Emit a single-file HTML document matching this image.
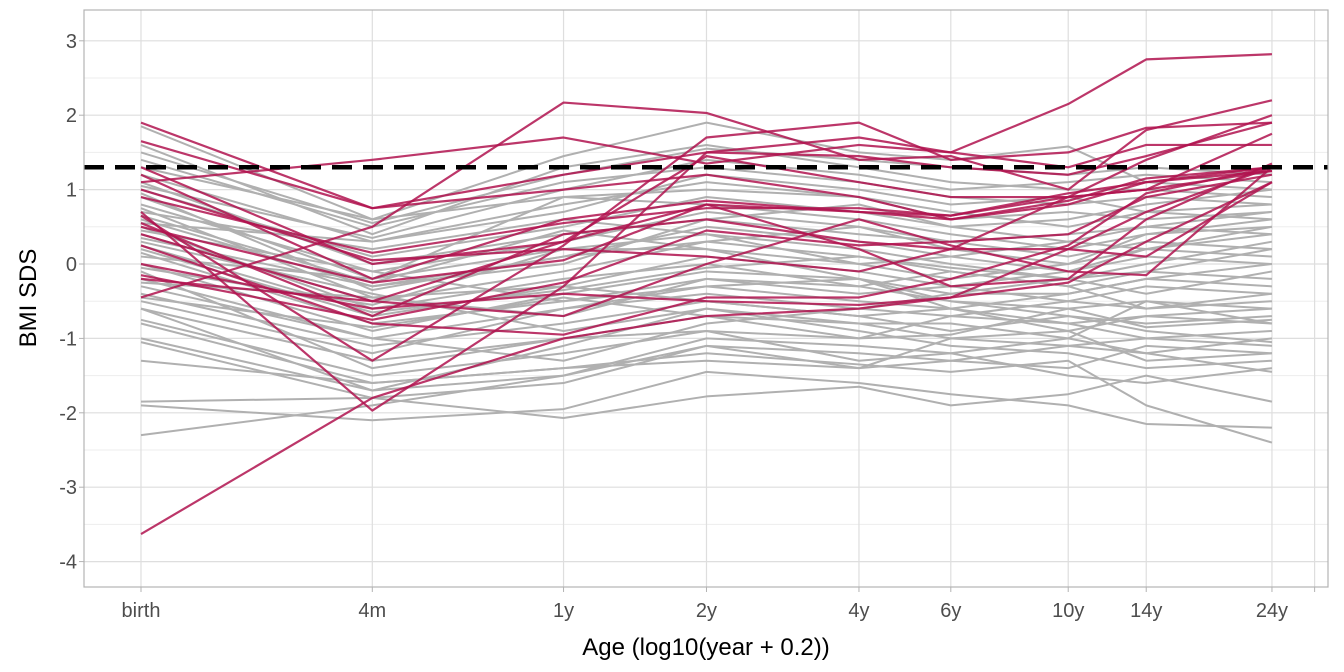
<!DOCTYPE html>
<html><head><meta charset="utf-8"><style>
html,body{margin:0;padding:0;background:#fff;}
svg{display:block;font-family:"Liberation Sans",sans-serif;}
</style></head><body>
<svg id="chart" width="1344" height="672" viewBox="0 0 1344 672">
<g id="grid"></g>
<g id="grey"></g>
<g id="red"></g>
<g id="ref"></g>
<rect x="84" y="10" width="1244" height="577" fill="none" stroke="#b3b3b3" stroke-width="1.2"/>
<g id="axes"></g>
<text x="706" y="655" text-anchor="middle" font-size="24" fill="#000">Age (log10(year + 0.2))</text>
<text transform="translate(36,298) rotate(-90)" text-anchor="middle" font-size="24" fill="#000">BMI SDS</text>
</svg>
<script>
const ageLabels = ["birth","4m","1y","2y","4y","6y","10y","14y","24y"];
const ageYears = [0, 1/3, 1, 2, 4, 6, 10, 14, 24];
const yTicks = [3,2,1,0,-1,-2,-3,-4];
const refValue = 1.3;
const redSeries = [
[-3.63,-1.8,-1.0,-0.7,-0.6,-0.45,0.2,0.7,1.3],
[1.9,0.75,1.2,1.5,1.45,1.3,1.2,1.45,1.9],
[1.1,1.4,1.7,1.35,1.6,1.5,2.15,2.75,2.82],
[0.65,-1.3,0.25,1.7,1.9,1.4,1.5,1.83,1.9],
[-0.45,0.5,2.17,2.03,1.4,1.45,1.0,1.8,2.2],
[0.7,-1.97,-0.3,1.5,1.7,1.5,1.3,1.6,1.6],
[1.65,0.75,1.0,1.2,0.9,0.6,0.8,1.1,1.3],
[1.2,-0.2,0.6,0.85,0.7,0.65,0.9,1.0,1.25],
[0.4,-0.5,0.3,0.8,0.7,0.6,0.85,1.15,1.3],
[-0.15,-0.75,-0.25,0.45,0.25,0.3,0.4,0.9,1.2],
[0.25,-0.8,-0.95,-0.45,-0.45,-0.2,0.25,0.95,1.3],
[1.0,0.05,0.2,0.1,-0.1,0.2,0.2,0.1,1.1],
[-0.2,-0.5,-0.7,0.0,0.6,0.25,-0.1,-0.15,1.3],
[0.5,-0.25,0.05,0.8,0.2,-0.3,-0.2,0.6,1.35],
[0.9,0.15,0.55,0.75,0.75,0.65,0.95,1.1,1.25],
[1.3,0.0,0.3,1.45,1.1,0.9,0.9,1.0,1.75],
[0.0,-0.6,-0.4,-0.5,-0.55,-0.45,-0.25,0.3,1.1],
[0.55,-0.7,0.4,0.6,0.3,0.2,0.9,1.4,2.0]
];
const greySeries = [
[-2.3,-1.9,-1.5,-1.1,-1.2,-1.3,-1.1,-1.0,-1.1],
[-1.85,-1.8,-2.07,-1.78,-1.65,-1.9,-1.75,-1.5,-1.85],
[-1.9,-2.1,-1.95,-1.45,-1.6,-1.75,-1.9,-2.15,-2.2],
[-1.3,-1.6,-1.4,-1.2,-1.35,-1.45,-1.3,-1.9,-2.4],
[-1.0,-1.7,-1.5,-1.0,-1.1,-1.2,-1.5,-1.6,-1.4],
[-0.75,-1.5,-1.2,-0.9,-1.3,-1.2,-1.0,-1.2,-1.45],
[-0.6,-1.3,-1.0,-0.7,-0.8,-1.0,-0.9,-1.3,-1.2],
[-0.4,-1.1,-0.8,-0.5,-0.7,-0.9,-0.7,-0.9,-1.05],
[-0.2,-1.0,-0.6,-0.3,-0.5,-0.6,-0.8,-0.7,-0.8],
[0.0,-0.9,-0.4,-0.1,-0.2,-0.5,-0.6,-0.5,-0.6],
[0.2,-0.7,-0.3,0.1,-0.1,-0.3,-0.5,-0.3,-0.4],
[0.4,-0.5,-0.1,0.3,0.1,-0.1,-0.3,-0.1,-0.2],
[0.6,-0.3,0.1,0.5,0.3,0.1,-0.1,0.1,0.0],
[0.8,-0.1,0.3,0.7,0.5,0.3,0.1,0.3,0.2],
[1.0,0.1,0.5,0.9,0.7,0.5,0.3,0.5,0.4],
[1.2,0.3,0.8,1.1,0.9,0.7,0.5,0.7,0.6],
[1.4,0.5,1.1,1.3,1.1,0.9,0.8,0.9,0.8],
[1.85,0.6,1.45,1.9,1.5,1.4,1.58,1.1,1.0],
[1.6,0.4,1.3,1.6,1.3,1.1,1.0,1.0,0.9],
[0.1,-0.2,0.9,1.0,0.9,0.6,0.7,0.6,0.7],
[-0.5,-1.2,-0.6,-0.4,-0.6,-0.7,-0.8,-1.0,-0.9],
[0.3,-0.4,-0.9,-0.6,-0.9,-1.1,-1.2,-1.4,-1.3],
[-0.1,-1.4,-1.0,-0.9,-1.0,-0.7,-0.5,-0.6,-0.5],
[0.7,0.2,0.6,0.4,0.2,0.0,-0.2,0.0,0.3],
[0.9,-0.2,0.2,0.2,-0.2,-0.4,-0.4,-0.2,-0.3],
[0.5,-0.6,-0.2,0.0,-0.3,-0.5,-0.7,-0.8,-0.7],
[0.15,-0.8,-0.5,-0.2,-0.4,-0.3,-0.1,0.2,0.5],
[1.1,0.0,0.4,0.6,0.4,0.3,0.4,0.5,0.7],
[-0.3,-1.0,-1.3,-0.8,-0.6,-0.4,-0.2,-0.4,-0.1],
[-0.8,-1.6,-1.4,-1.3,-1.4,-1.0,-1.1,-1.2,-1.0],
[1.3,0.6,0.9,0.8,0.6,0.4,0.2,0.4,0.5],
[0.35,-0.3,0.0,0.6,0.8,0.5,0.6,0.8,1.0],
[-0.05,-0.55,0.2,0.4,0.0,-0.2,0.0,0.2,0.1],
[0.75,-0.45,-0.3,-0.5,-0.7,-0.6,-0.9,-0.7,-0.6],
[0.55,0.3,0.7,1.2,1.0,0.8,0.9,0.7,0.8],
[-0.6,-1.7,-1.1,-0.6,-0.8,-0.8,-1.0,-0.5,-0.8],
[1.05,0.35,1.0,1.4,1.2,1.0,1.1,1.2,1.1],
[-0.25,-0.45,-0.7,-0.2,-0.3,-0.1,-0.3,-0.6,-0.4],
[0.45,-0.1,-0.5,-0.3,-0.2,-0.6,-0.4,-0.2,0.0],
[-1.05,-1.8,-1.6,-1.1,-1.4,-1.3,-1.4,-1.1,-1.2],
[0.95,-0.35,0.1,0.3,0.5,0.2,0.0,0.4,0.6],
[0.25,-0.65,-0.35,-0.05,0.1,-0.05,-0.2,-0.1,0.2],
[1.5,0.55,1.2,1.55,1.4,1.3,1.2,1.3,1.2],
[-0.45,-0.85,-0.45,-0.7,-1.0,-0.95,-0.6,-0.85,-0.75],
[0.65,-0.25,0.45,0.2,0.0,0.1,0.3,0.2,0.4]
];
const NS="http://www.w3.org/2000/svg";
const X0=141, XK=543, Y0=264, YK=74.4;
const lx=a=>Math.log10(a+0.2);
const xs=a=>X0+(lx(a)-lx(0))*XK;
const ys=v=>Y0-v*YK;
function mk(tag,attrs,parent){const e=document.createElementNS(NS,tag);for(const k in attrs)e.setAttribute(k,attrs[k]);parent.appendChild(e);return e;}
const grid=document.getElementById('grid'),axes=document.getElementById('axes');
for(let i=0;i<yTicks.length-1;i++){const v=(yTicks[i]+yTicks[i+1])/2;const l=mk('line',{x1:84,x2:1328,y1:ys(v),y2:ys(v),stroke:'#ededed','stroke-width':1},grid);

}
yTicks.forEach(v=>{const l=mk('line',{x1:84,x2:1328,y1:ys(v),y2:ys(v),stroke:'#dedede','stroke-width':1.2},grid);


const t=mk('text',{x:77,y:ys(v)+7,'text-anchor':'end','font-size':20,fill:'#4d4d4d'},axes);t.textContent=v;


const tk=mk('line',{x1:79,x2:84,y1:ys(v),y2:ys(v),stroke:'#b3b3b3'},axes);

});
const extra=[...ageYears,28.8];
extra.forEach((a,i)=>{const x=xs(a);const l=mk('line',{x1:x,x2:x,y1:10,y2:587,stroke:'#dedede','stroke-width':1.2},grid);


const tk=mk('line',{x1:x,x2:x,y1:587,y2:592,stroke:'#b3b3b3'},axes);


if(i<ageLabels.length){const t=mk('text',{x:x,y:617,'text-anchor':'middle','font-size':20,fill:'#4d4d4d'},axes);t.textContent=ageLabels[i];

}});
function draw(series,g,color,w,op,name){series.forEach(s=>{const p=mk('polyline',{points:s.map((v,i)=>xs(ageYears[i])+','+ys(v)).join(' '),fill:'none',stroke:color,'stroke-width':w,'stroke-opacity':op,'stroke-linejoin':'round'},g);

});}
draw(greySeries,document.getElementById('grey'),'#b0b0b0',2,1,'grey-trajectory');
draw(redSeries,document.getElementById('red'),'#b0134f',2.2,0.85,'red-trajectory');
const r=mk('line',{x1:84,x2:1328,y1:ys(refValue),y2:ys(refValue),stroke:'#000','stroke-width':4.5,'stroke-dasharray':'20,11'},document.getElementById('ref'));


</script>
</body></html>
